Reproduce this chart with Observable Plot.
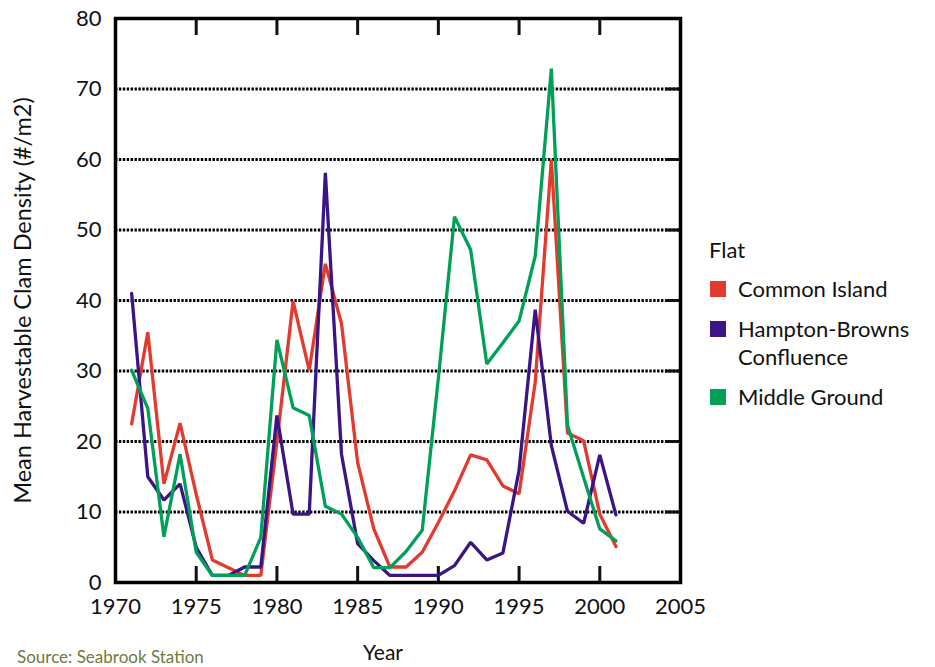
<!DOCTYPE html>
<html>
<head>
<meta charset="utf-8">
<script src="https://cdn.jsdelivr.net/npm/d3@7"></script>
<script src="https://cdn.jsdelivr.net/npm/@observablehq/plot@0.6"></script>
<style>
  html, body { margin: 0; padding: 0; background: #fff; }
  #wrap { position: relative; width: 935px; height: 667px; overflow: hidden; font-family: Lato, "Open Sans", sans-serif; color: #111; }
  #chart { position: absolute; left: 0; top: 0; }
  #legend { position: absolute; left: 709px; top: 236px; font-size: 22px; line-height: 28px; }
  #legend .title { margin-bottom: 11px; }
  #legend .item { display: flex; align-items: flex-start; margin-bottom: 12px; }
  #legend .sw { width: 16px; height: 16px; margin: 6px 12px 0 1px; flex: none; }
  #xlabel { position: absolute; left: 383px; top: 640px; transform: translateX(-50%); font-size: 21px; line-height: 24px; }
  #source { position: absolute; left: 17px; top: 647px; font-size: 17px; line-height: 19px; color: #6f7a3c; }
</style>
</head>
<body>
<div id="wrap">
  <div id="chart"></div>
  <div id="legend"></div>
  <div id="xlabel">Year</div>
  <div id="source">Source: Seabrook Station</div>
</div>
<script>
// Survey years
const years = [1971, 1972, 1973, 1974, 1975, 1976, 1977, 1978, 1979, 1980,
               1981, 1982, 1983, 1984, 1985, 1986, 1987, 1988, 1989, 1990,
               1991, 1992, 1993, 1994, 1995, 1996, 1997, 1998, 1999, 2000, 2001];

// Mean harvestable clam density (#/m2) per flat
const commonIsland = [22.5, 35.5, 14.0, 22.6, 12.5, 3.2, 2.1, 1.0, 1.0, 20.0,
                      39.9, 30.1, 45.2, 36.7, 17.0, 7.6, 2.2, 2.2, 4.3, 8.5,
                      13.0, 18.1, 17.4, 13.7, 12.6, 28.4, 60.0, 21.2, 20.1, 9.7, 5.1];
const hamptonBrowns = [41.0, 15.0, 11.7, 14.0, 5.0, 1.0, 1.0, 2.2, 2.2, 23.7,
                       9.7, 9.7, 58.1, 18.2, 5.5, 3.1, 1.0, 1.0, 1.0, 1.0,
                       2.4, 5.7, 3.2, 4.2, 15.9, 38.7, 19.4, 10.1, 8.4, 18.1, 9.6];
const middleGround = [30.1, 24.7, 6.5, 18.2, 4.3, 1.0, 1.0, 1.0, 6.4, 34.4,
                      24.8, 23.7, 10.8, 9.7, 6.4, 2.1, 2.1, 4.4, 7.4, 29.0,
                      51.9, 47.2, 31.0, 34.0, 37.1, 46.3, 72.9, 22.3, 14.9, 7.6, 5.9];

const flats = ["Common Island", "Hampton-Browns Confluence", "Middle Ground"];
const flatLabels = [["Common Island"], ["Hampton-Browns", "Confluence"], ["Middle Ground"]];
const flatColors = ["#e23a2e", "#3b1585", "#00a058"];

const xTicks = [1970, 1975, 1980, 1985, 1990, 1995, 2000, 2005];
const xInnerTicks = [1975, 1980, 1985, 1990, 1995, 2000];
const yTicks = [0, 10, 20, 30, 40, 50, 60, 70, 80];
const yInnerTicks = [10, 20, 30, 40, 50, 60, 70];

// Long-format table for the line mark
const seriesValues = [commonIsland, hamptonBrowns, middleGround];
const rows = [];
flats.forEach((flat, i) => {
  years.forEach((year, j) => rows.push({flat, year, density: seriesValues[i][j]}));
});

const blank = () => "";

const chart = Plot.plot({
  width: 935,
  height: 667,
  marginLeft: 115,
  marginRight: 255,
  marginTop: 18,
  marginBottom: 85,
  style: {fontFamily: "Lato, 'Open Sans', sans-serif", fontSize: "22px", color: "#111", background: "#fff"},
  x: {domain: [1970, 2005]},
  y: {domain: [0, 80]},
  color: {domain: flats, range: flatColors},
  marks: [
    Plot.ruleY(yInnerTicks, {stroke: "#000", strokeWidth: 3, strokeDasharray: "2.4,1.5"}),
    Plot.axisX({anchor: "bottom", ticks: xTicks, tickSize: 0, tickPadding: 16, tickFormat: d => String(d),
                fontSize: 22, label: null}),
    Plot.axisX({anchor: "bottom", ticks: xInnerTicks, tickSize: -16, strokeWidth: 3, tickFormat: blank, label: null}),
    Plot.axisX({anchor: "top", ticks: xInnerTicks, tickSize: -16, strokeWidth: 3, tickFormat: blank, label: null}),
    Plot.axisY({anchor: "left", ticks: yTicks, tickSize: 0, tickPadding: 14, fontSize: 22,
                label: "Mean Harvestable Clam Density (#/m2)", labelAnchor: "center", labelArrow: "none", labelOffset: 101}),
    Plot.axisY({anchor: "right", ticks: yInnerTicks, tickSize: -16, strokeWidth: 3, tickFormat: blank, label: null}),
    Plot.frame({stroke: "#000", strokeWidth: 3.5}),
    Plot.line(rows, {x: "year", y: "density", z: "flat", stroke: "flat", strokeWidth: 3.3, strokeLinejoin: "miter"})
  ]
});
// Slightly larger axis title
chart.querySelectorAll("text").forEach(t => {
  if (t.textContent === "Mean Harvestable Clam Density (#/m2)") t.setAttribute("font-size", "23.5");
});
document.getElementById("chart").append(chart);

// Legend
const legend = document.getElementById("legend");
const title = document.createElement("div");
title.className = "title";
title.textContent = "Flat";
legend.append(title);
flats.forEach((flat, i) => {
  const item = document.createElement("div");
  item.className = "item";
  const sw = document.createElement("div");
  sw.className = "sw";
  sw.style.background = flatColors[i];
  const label = document.createElement("div");
  label.innerHTML = flatLabels[i].join("<br>");
  item.append(sw, label);
  legend.append(item);
});
</script>
</body>
</html>
